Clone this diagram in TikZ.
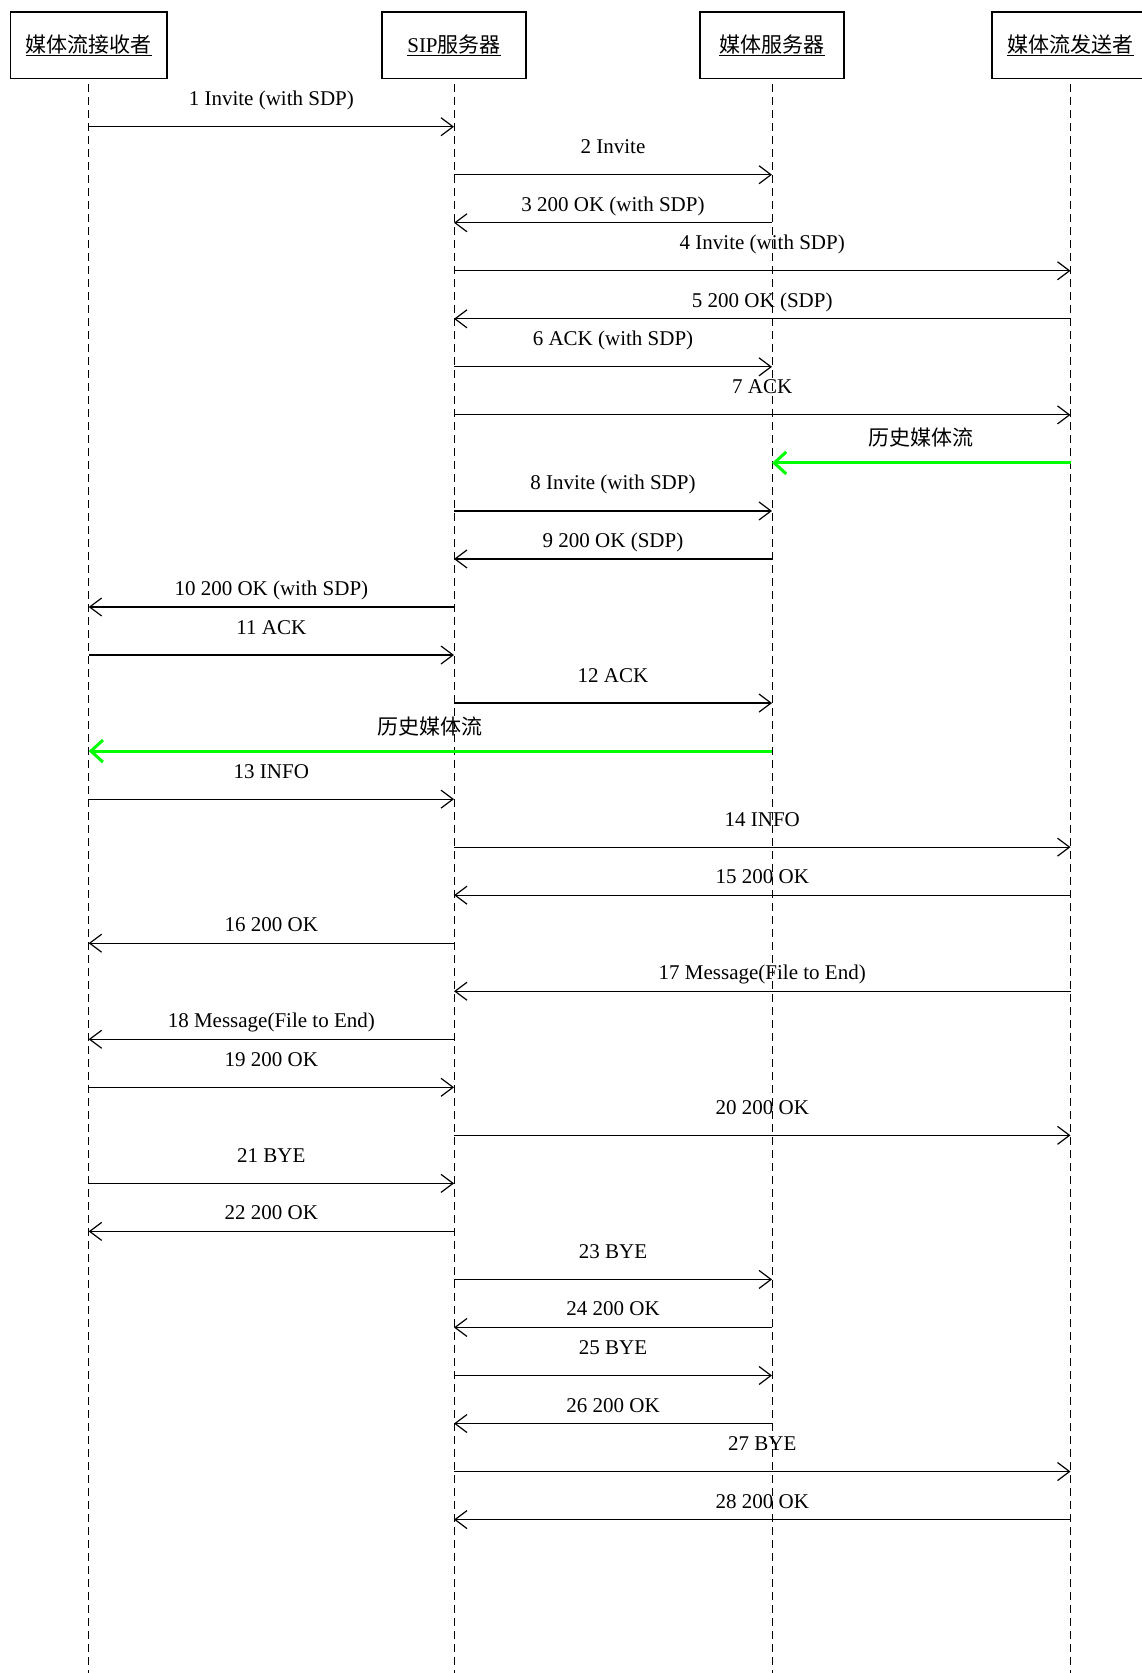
\documentclass[tikz,border=0pt]{standalone}
\usepackage{fontspec}
\setmainfont{Liberation Serif}
\newfontfamily\cjk{Noto Sans CJK SC}
\usetikzlibrary{arrows.meta}
\definecolor{flowgreen}{RGB}{0,255,0}
\begin{document}
\begin{tikzpicture}[x=1pt,y=-1pt,
  every node/.style={font=\fontsize{21}{25}\selectfont, inner sep=0pt},
  actor/.style={draw, line width=1.2pt, minimum height=66.7pt, inner sep=0pt},
  title/.style={anchor=base},
  uline/.style={line width=1pt},
  life/.style={line width=1pt, dash pattern=on 8pt off 5pt},
  msg/.style={line width=1.2pt, -{Straight Barb[length=12pt,width=18pt,line width=1.2pt]}},
  flow/.style={draw=flowgreen, line width=3pt, -{Straight Barb[length=12pt,width=22pt,line width=3pt]}},
  rl/.style={midway, anchor=base, yshift=21pt},
  ll/.style={midway, anchor=base, yshift=11.5pt},
  gl/.style={midway, anchor=base, yshift=17pt, font=\fontsize{21}{25}\selectfont\cjk}]
\useasboundingbox (0,0) rectangle (1141,1673);

% actor boxes
\node[actor, minimum width=156.7pt] (A) at (88.7,45.4) {};
\node[actor, minimum width=144pt] (B) at (454,45.4) {};
\node[actor, minimum width=144pt] (C) at (772,45.4) {};
\node[actor, minimum width=157pt] (D) at (1070.5,45.4) {};

% titles
\node[title] (tA) at (88.7,52) {\cjk 媒体流接收者};
\node[title] (tB) at (454,52) {SIP\cjk 服务器};
\node[title] (tC) at (772,52) {\cjk 媒体服务器};
\node[title] (tD) at (1070.5,52) {\cjk 媒体流发送者};
\foreach \t in {tA,tB,tC,tD}{
  \draw[uline] ([yshift=-3pt]\t.base west) -- ([yshift=-3pt]\t.base east);
}

% lifelines
\coordinate (sA) at (88.7,84);
\coordinate (sB) at (454,84);
\coordinate (sC) at (772,84);
\coordinate (sD) at (1070.5,84);
\coordinate (eA) at (88.7,1673);
\coordinate (eB) at (454,1673);
\coordinate (eC) at (772,1673);
\coordinate (eD) at (1070.5,1673);
\draw[life] (sA) -- (eA);
\draw[life] (sB) -- (eB);
\draw[life] (sC) -- (eC);
\draw[life] (sD) -- (eD);

% row coordinates
\foreach \i in {0,...,29}{
  \pgfmathsetmacro{\yy}{126.7+48.03*\i}
  \coordinate (a\i) at (88.7,\yy);
  \coordinate (b\i) at (454,\yy);
  \coordinate (c\i) at (772,\yy);
  \coordinate (d\i) at (1070.5,\yy);
}

% messages
\draw[msg] (a0) -- node[rl]{1 Invite (with SDP)} (b0);
\draw[msg] (b1) -- node[rl]{2 Invite} (c1);
\draw[msg] (c2) -- node[ll]{3 200 OK (with SDP)} (b2);
\draw[msg] (b3) -- node[rl]{4 Invite (with SDP)} (d3);
\draw[msg] (d4) -- node[ll]{5 200 OK (SDP)} (b4);
\draw[msg] (b5) -- node[rl]{6 ACK (with SDP)} (c5);
\draw[msg] (b6) -- node[rl]{7 ACK} (d6);
\draw[flow] (d7) -- node[gl]{历史媒体流} (c7);
\draw[msg] (b8) -- node[rl]{8 Invite (with SDP)} (c8);
\draw[msg] (c9) -- node[ll]{9 200 OK (SDP)} (b9);
\draw[msg] (b10) -- node[ll]{10 200 OK (with SDP)} (a10);
\draw[msg] (a11) -- node[rl]{11 ACK} (b11);
\draw[msg] (b12) -- node[rl]{12 ACK} (c12);
\draw[flow] (c13) -- node[gl]{历史媒体流} (a13);
\draw[msg] (a14) -- node[rl]{13 INFO} (b14);
\draw[msg] (b15) -- node[rl]{14 INFO} (d15);
\draw[msg] (d16) -- node[ll]{15 200 OK} (b16);
\draw[msg] (b17) -- node[ll]{16 200 OK} (a17);
\draw[msg] (d18) -- node[ll]{17 Message(File to End)} (b18);
\draw[msg] (b19) -- node[ll]{18 Message(File to End)} (a19);
\draw[msg] (a20) -- node[rl]{19 200 OK} (b20);
\draw[msg] (b21) -- node[rl]{20 200 OK} (d21);
\draw[msg] (a22) -- node[rl]{21 BYE} (b22);
\draw[msg] (b23) -- node[ll]{22 200 OK} (a23);
\draw[msg] (b24) -- node[rl]{23 BYE} (c24);
\draw[msg] (c25) -- node[ll]{24 200 OK} (b25);
\draw[msg] (b26) -- node[rl]{25 BYE} (c26);
\draw[msg] (c27) -- node[ll]{26 200 OK} (b27);
\draw[msg] (b28) -- node[rl]{27 BYE} (d28);
\draw[msg] (d29) -- node[ll]{28 200 OK} (b29);
\end{tikzpicture}
\end{document}
